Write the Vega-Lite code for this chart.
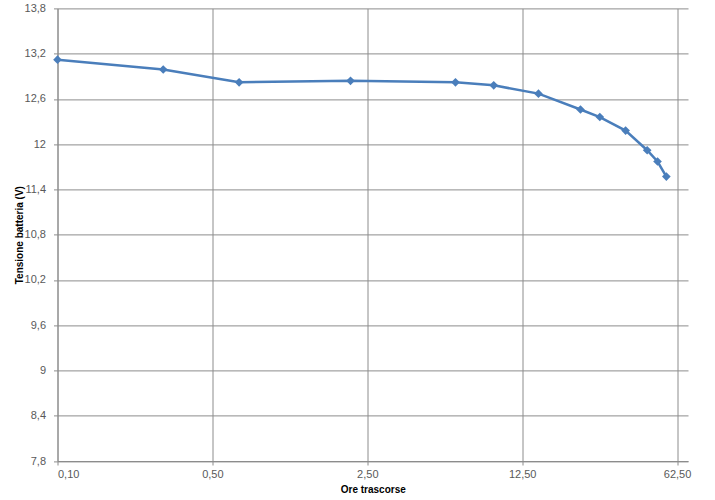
{
  "$schema": "https://vega.github.io/schema/vega-lite/v6.json",
  "width": 630.5,
  "height": 452.6,
  "autosize": {"type": "none"},
  "padding": {"left": 57.5, "top": 8.4, "right": 27, "bottom": 39},
  "background": "white",
  "config": {
    "font": "Liberation Sans",
    "view": {"stroke": null},
    "axis": {
      "labelColor": "#595959",
      "labelFontSize": 11,
      "titleColor": "#000000",
      "titleFontSize": 10,
      "titleFontWeight": "bold",
      "gridColor": "#8c8c8c",
      "gridWidth": 1,
      "gridOpacity": 1,
      "domainColor": "#8c8c8c",
      "tickColor": "#8c8c8c",
      "tickSize": 4
    }
  },
  "data": {
    "values": [
      {"ore": 0.1, "v": 13.12},
      {"ore": 0.3, "v": 12.99},
      {"ore": 0.66, "v": 12.82},
      {"ore": 2.1, "v": 12.84},
      {"ore": 6.25, "v": 12.82},
      {"ore": 9.3, "v": 12.78},
      {"ore": 14.8, "v": 12.67},
      {"ore": 22.9, "v": 12.46},
      {"ore": 28, "v": 12.36},
      {"ore": 36.6, "v": 12.18},
      {"ore": 45.8, "v": 11.92},
      {"ore": 51, "v": 11.77},
      {"ore": 55.9, "v": 11.57}
    ]
  },
  "mark": {
    "type": "line",
    "color": "#4a7ebb",
    "strokeWidth": 2.5,
    "point": {"shape": "diamond", "size": 75, "filled": true, "color": "#4a7ebb"}
  },
  "encoding": {
    "x": {
      "field": "ore",
      "type": "quantitative",
      "scale": {"type": "log", "base": 5, "domain": [0.1, 70], "nice": false},
      "axis": {
        "title": "Ore trascorse",
        "values": [0.1, 0.5, 2.5, 12.5, 62.5],
        "labelExpr": "replace(format(datum.value, '.2f'), '.', ',')",
        "labelPadding": 3,
        "titlePadding": 5
      }
    },
    "y": {
      "field": "v",
      "type": "quantitative",
      "scale": {"domain": [7.8, 13.8], "nice": false, "zero": false},
      "axis": {
        "title": "Tensione batteria (V)",
        "values": [7.8, 8.4, 9, 9.6, 10.2, 10.8, 11.4, 12, 12.6, 13.2, 13.8],
        "labelExpr": "replace(format(datum.value, '.2~f'), '.', ',')",
        "labelPadding": 8,
        "titlePadding": 0
      }
    }
  }
}
